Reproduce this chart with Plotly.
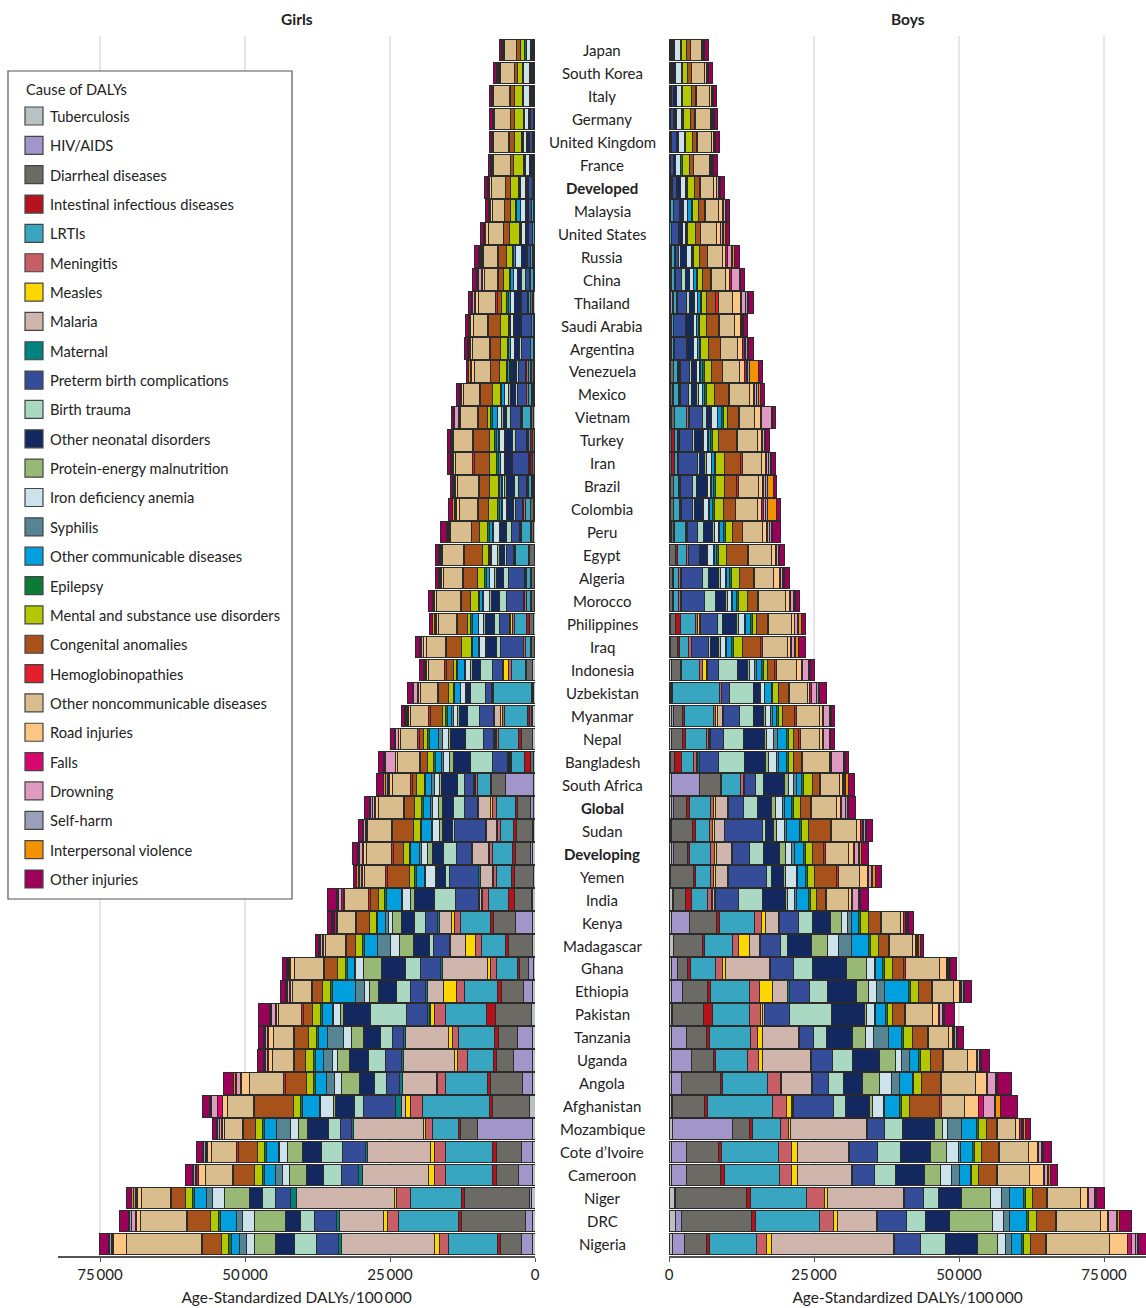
import plotly.graph_objects as go

# ---------------- categories ----------------
countries = ["Japan", "South Korea", "Italy", "Germany", "United Kingdom", "France", "Developed",
             "Malaysia", "United States", "Russia", "China", "Thailand", "Saudi Arabia", "Argentina",
             "Venezuela", "Mexico", "Vietnam", "Turkey", "Iran", "Brazil", "Colombia", "Peru", "Egypt",
             "Algeria", "Morocco", "Philippines", "Iraq", "Indonesia", "Uzbekistan", "Myanmar", "Nepal",
             "Bangladesh", "South Africa", "Global", "Sudan", "Developing", "Yemen", "India", "Kenya",
             "Madagascar", "Ghana", "Ethiopia", "Pakistan", "Tanzania", "Uganda", "Angola", "Afghanistan",
             "Mozambique", "Cote d\u2019Ivoire", "Cameroon", "Niger", "DRC", "Nigeria"]
bold_rows = ["Developed", "Global", "Developing"]

causes = ["Tuberculosis", "HIV/AIDS", "Diarrheal diseases", "Intestinal infectious diseases", "LRTIs",
          "Meningitis", "Measles", "Malaria", "Maternal", "Preterm birth complications", "Birth trauma",
          "Other neonatal disorders", "Protein-energy malnutrition", "Iron deficiency anemia", "Syphilis",
          "Other communicable diseases", "Epilepsy", "Mental and substance use disorders",
          "Congenital anomalies", "Hemoglobinopathies", "Other noncommunicable diseases", "Road injuries",
          "Falls", "Drowning", "Self-harm", "Interpersonal violence", "Other injuries"]
cause_colors = ["#b9c1c5", "#a195c9", "#6b6a65", "#b5121b", "#38a6c0", "#c95f66", "#ffd700", "#d0b5ad",
                "#00827e", "#354c98", "#a9d8c3", "#13285e", "#98b875", "#cde3ec", "#558593", "#00a0df",
                "#0b7b36", "#b3c800", "#a8521b", "#e3202a", "#d9bd8d", "#fdc682", "#d8076e", "#e09ac2",
                "#9b9fb9", "#f39200", "#9c0058"]

tick_vals = [0, 25, 50, 75]
tick_text = ["0", "25\u2009000", "50\u2009000", "75\u2009000"]

# ---------------- values (thousand DALYs per 100 000), order = causes ----------------
# Girls
g_japan = [0, 0, 0.05, 0.05, 0.15, 0.05, 0, 0, 0, 0.15, 0.1, 0.15, 0.05, 0.7, 0, 0.1, 0.2, 0.8, 0.6, 0.05, 2.0, 0.15, 0.05, 0.05, 0.2, 0.05, 0.4]
g_south_korea = [0, 0, 0.05, 0.05, 0.2, 0.05, 0, 0, 0, 0.2, 0.1, 0.2, 0.05, 1.0, 0, 0.1, 0.2, 0.9, 0.4, 0.05, 2.4, 0.2, 0.05, 0.05, 0.3, 0.05, 0.5]
g_italy = [0, 0, 0.05, 0.05, 0.2, 0.05, 0, 0, 0, 0.3, 0.1, 0.2, 0.05, 0.9, 0, 0.1, 0.2, 1.4, 0.6, 0.2, 2.7, 0.15, 0.05, 0.05, 0.05, 0.05, 0.4]
g_germany = [0, 0, 0.05, 0.05, 0.15, 0.05, 0, 0, 0, 0.4, 0.1, 0.2, 0.05, 0.7, 0, 0.1, 0.2, 1.4, 0.7, 0.05, 2.8, 0.15, 0.05, 0.05, 0.1, 0.05, 0.4]
g_uk = [0, 0, 0.05, 0.05, 0.2, 0.05, 0, 0, 0, 0.6, 0.1, 0.3, 0.05, 0.6, 0, 0.1, 0.2, 1.2, 0.9, 0.1, 2.6, 0.15, 0.05, 0.05, 0.05, 0.05, 0.4]
g_france = [0, 0, 0.05, 0.05, 0.15, 0.05, 0, 0, 0, 0.2, 0.1, 0.3, 0.05, 0.7, 0, 0.1, 0.2, 1.7, 0.6, 0.05, 2.9, 0.15, 0.05, 0.05, 0.1, 0.05, 0.4]
g_developed = [0.05, 0.05, 0.1, 0.05, 0.2, 0.05, 0, 0, 0, 0.6, 0.15, 0.3, 0.05, 0.9, 0, 0.15, 0.2, 1.3, 0.9, 0.1, 2.4, 0.3, 0.05, 0.1, 0.15, 0.05, 0.5]
g_malaysia = [0.1, 0.05, 0.1, 0.05, 0.3, 0.05, 0, 0, 0, 0.5, 0.1, 0.4, 0.05, 0.8, 0, 0.7, 0.2, 0.8, 1.0, 0.1, 2.1, 0.3, 0.05, 0.1, 0.05, 0.05, 0.5]
g_us = [0, 0, 0.1, 0.05, 0.2, 0.05, 0, 0, 0, 0.7, 0.15, 0.4, 0.05, 0.7, 0, 0.15, 0.2, 1.7, 0.9, 0.1, 2.6, 0.4, 0.05, 0.1, 0.1, 0.1, 0.6]
g_russia = [0.1, 0.1, 0.1, 0.05, 0.4, 0.1, 0, 0, 0, 0.5, 0.2, 0.8, 0.05, 1.0, 0, 0.3, 0.2, 1.1, 1.3, 0.1, 2.4, 0.3, 0.1, 0.2, 0.2, 0.2, 0.6]
g_china = [0.1, 0.05, 0.1, 0.05, 0.5, 0.1, 0, 0, 0, 0.7, 0.8, 0.6, 0.1, 0.6, 0, 0.5, 0.2, 1.0, 0.9, 0.1, 2.3, 0.4, 0.2, 0.5, 0.2, 0.05, 0.7]
g_thailand = [0.2, 0.3, 0.2, 0.05, 0.4, 0.1, 0, 0, 0, 1.0, 0.3, 0.9, 0.1, 0.6, 0, 0.5, 0.2, 0.9, 0.7, 0.4, 2.9, 0.5, 0.1, 0.4, 0.1, 0.1, 0.6]
g_saudi_arabia = [0.05, 0, 0.1, 0.1, 0.3, 0.1, 0, 0, 0, 1.7, 0.2, 1.0, 0.1, 0.6, 0, 0.2, 0.2, 1.3, 2.0, 0.3, 2.4, 0.5, 0.1, 0.1, 0.05, 0.05, 0.6]
g_argentina = [0.05, 0.05, 0.15, 0.05, 0.4, 0.1, 0, 0, 0, 1.6, 0.2, 0.9, 0.1, 0.6, 0, 0.3, 0.2, 1.3, 1.7, 0.1, 2.9, 0.4, 0.1, 0.1, 0.2, 0.1, 0.6]
g_venezuela = [0.1, 0.1, 0.4, 0.1, 0.5, 0.2, 0, 0.1, 0.1, 1.3, 0.3, 0.6, 0.2, 0.3, 0.1, 0.4, 0.2, 1.2, 1.4, 0.1, 2.8, 0.4, 0.1, 0.1, 0.1, 0.2, 0.4]
g_mexico = [0.1, 0.1, 0.3, 0.1, 0.6, 0.2, 0, 0, 0.1, 1.5, 0.4, 0.9, 0.2, 0.7, 0.1, 0.5, 0.2, 1.3, 2.1, 0.1, 2.9, 0.3, 0.1, 0.1, 0.1, 0.1, 0.5]
g_vietnam = [0.2, 0.1, 0.3, 0.1, 1.4, 0.2, 0.1, 0, 0.1, 1.7, 0.7, 0.6, 0.2, 0.7, 0.1, 0.9, 0.2, 0.6, 1.6, 0.2, 2.8, 0.3, 0.1, 0.7, 0.1, 0.1, 0.3]
g_turkey = [0.1, 0, 0.3, 0.3, 0.4, 0.2, 0, 0, 0.1, 2.0, 0.4, 1.3, 0.2, 0.9, 0.1, 0.3, 0.3, 1.0, 2.7, 0.2, 3.2, 0.2, 0.1, 0.1, 0.1, 0.1, 0.5]
g_iran = [0.1, 0, 0.3, 0.3, 0.3, 0.1, 0, 0, 0.1, 2.6, 0.3, 1.0, 0.2, 0.6, 0.1, 0.3, 0.3, 1.2, 2.6, 0.3, 3.0, 0.4, 0.1, 0.1, 0.1, 0.1, 0.6]
g_brazil = [0.1, 0.1, 0.3, 0.1, 0.5, 0.2, 0, 0, 0.1, 1.5, 0.6, 1.5, 0.2, 0.4, 0.2, 0.3, 0.2, 1.6, 1.7, 0.2, 3.5, 0.4, 0.1, 0.1, 0.1, 0.2, 0.4]
g_colombia = [0.1, 0.1, 0.5, 0.1, 0.9, 0.2, 0, 0.1, 0.1, 1.2, 0.4, 1.0, 0.3, 0.6, 0.1, 0.5, 0.2, 1.6, 1.8, 0.1, 3.2, 0.4, 0.1, 0.1, 0.1, 0.4, 0.7]
g_peru = [0.2, 0.1, 0.3, 0.1, 1.6, 0.2, 0, 0, 0.1, 1.4, 0.9, 1.0, 0.3, 0.9, 0.2, 0.6, 0.3, 1.3, 1.4, 0.1, 3.5, 0.3, 0.1, 0.2, 0.1, 0.1, 1.0]
g_egypt = [0.1, 0, 0.9, 0.2, 2.2, 0.2, 0, 0, 0.1, 1.3, 0.3, 0.9, 0.3, 1.0, 0.1, 0.3, 0.2, 1.0, 3.0, 0.2, 3.6, 0.3, 0.1, 0.1, 0.1, 0.1, 0.6]
g_algeria = [0.1, 0, 0.5, 0.2, 0.6, 0.3, 0, 0, 0.1, 2.8, 0.8, 1.2, 0.3, 0.9, 0.1, 0.5, 0.3, 1.2, 2.4, 0.2, 3.3, 0.4, 0.1, 0.1, 0.1, 0.1, 0.6]
g_morocco = [0.1, 0, 0.5, 0.2, 0.7, 0.3, 0, 0, 0.1, 3.0, 1.3, 1.3, 0.3, 1.0, 0.2, 0.5, 0.3, 1.3, 1.5, 0.2, 4.1, 0.4, 0.1, 0.1, 0.1, 0.1, 0.6]
g_philippines = [0.3, 0, 0.6, 0.6, 2.0, 0.3, 0.4, 0.1, 0.1, 1.7, 0.9, 1.6, 0.2, 0.9, 0.1, 1.0, 0.3, 0.5, 1.7, 0.2, 3.2, 0.3, 0.1, 0.2, 0.1, 0.2, 0.6]
g_iraq = [0.1, 0, 0.5, 0.2, 0.9, 0.2, 0, 0, 0.1, 4.0, 0.7, 1.6, 0.3, 1.0, 0.1, 1.0, 0.3, 1.6, 2.6, 0.2, 3.3, 0.5, 0.1, 0.3, 0.1, 0.3, 0.6]
g_indonesia = [0.4, 0.1, 0.9, 0.3, 2.4, 0.4, 0.9, 0.1, 0.1, 1.8, 2.0, 1.4, 0.3, 0.9, 0.2, 1.1, 0.3, 0.5, 1.2, 0.3, 2.8, 0.3, 0.1, 0.3, 0.1, 0.1, 0.6]
g_uzbekistan = [0.2, 0, 0.3, 0.1, 6.6, 0.2, 0, 0, 0.1, 1.0, 2.6, 0.7, 0.2, 0.8, 0.1, 0.9, 0.3, 0.9, 1.6, 0.2, 2.9, 0.4, 0.1, 0.7, 0.1, 0.1, 0.9]
g_myanmar = [0.4, 0.2, 0.3, 0.4, 4.0, 0.3, 0.4, 1.0, 0.1, 2.4, 2.2, 1.4, 0.3, 0.7, 0.3, 0.7, 0.3, 0.6, 2.0, 0.3, 3.1, 0.4, 0.1, 0.3, 0.1, 0.2, 0.6]
g_nepal = [0.4, 0.1, 1.9, 0.4, 3.5, 0.4, 0.1, 0.1, 0.2, 1.8, 3.0, 2.6, 0.4, 1.1, 0.6, 1.6, 0.3, 0.7, 0.8, 0.2, 3.0, 0.3, 0.1, 0.4, 0.2, 0.1, 0.7]
g_bangladesh = [0.3, 0, 0.5, 1.0, 2.2, 0.3, 0.1, 0.1, 0.3, 2.6, 3.8, 2.8, 0.7, 1.1, 0.3, 1.1, 0.3, 1.0, 1.2, 0.2, 3.8, 0.3, 0.1, 1.7, 0.2, 0.1, 0.9]
g_south_africa = [0.3, 4.8, 2.4, 0.2, 2.2, 0.3, 0.1, 0.1, 0.2, 1.6, 1.1, 2.8, 0.4, 0.9, 0.4, 1.0, 0.3, 1.3, 0.8, 0.2, 3.2, 0.5, 0.1, 0.3, 0.2, 0.5, 1.2]
g_global = [0.3, 0.4, 2.3, 0.4, 3.3, 0.6, 0.3, 2.1, 0.2, 2.3, 1.8, 2.0, 0.6, 1.0, 0.4, 1.3, 0.3, 1.2, 1.7, 0.2, 4.3, 0.5, 0.2, 0.4, 0.2, 0.2, 0.9]
g_sudan = [0.3, 0.2, 2.7, 0.5, 2.3, 0.5, 0.2, 1.6, 0.3, 5.2, 0.4, 1.8, 0.5, 1.1, 0.3, 1.6, 0.3, 1.2, 3.6, 0.2, 4.0, 0.3, 0.1, 0.3, 0.1, 0.2, 0.7]
g_developing = [0.4, 0.4, 2.5, 0.5, 3.5, 0.5, 0.3, 2.6, 0.3, 2.5, 2.2, 2.0, 0.9, 1.0, 0.4, 1.4, 0.3, 0.9, 1.8, 0.3, 4.4, 0.4, 0.2, 0.5, 0.2, 0.2, 0.9]
g_yemen = [0.2, 0.1, 3.3, 0.5, 2.5, 0.5, 0.2, 2.1, 0.3, 5.1, 0.7, 1.4, 0.3, 1.7, 0.2, 1.4, 0.3, 0.9, 3.7, 0.3, 3.7, 0.4, 0.2, 0.3, 0.1, 0.3, 0.6]
g_india = [0.4, 0.2, 2.9, 1.0, 3.5, 1.0, 0.2, 0.4, 0.2, 3.9, 3.6, 3.4, 0.7, 1.4, 0.2, 2.6, 0.3, 1.0, 1.5, 0.3, 4.1, 0.3, 0.2, 0.5, 0.2, 0.2, 1.6]
g_kenya = [0.4, 2.9, 3.9, 0.5, 5.2, 1.0, 0.5, 2.1, 0.3, 2.0, 2.0, 2.3, 1.4, 0.8, 0.5, 1.3, 0.3, 1.1, 2.2, 0.2, 3.1, 0.3, 0.2, 0.2, 0.2, 0.2, 0.6]
g_madagascar = [0.4, 0.1, 4.1, 0.5, 4.1, 1.0, 1.8, 2.5, 0.3, 2.7, 0.7, 2.7, 2.4, 1.6, 2.3, 2.2, 0.3, 1.2, 1.6, 0.2, 3.5, 0.3, 0.2, 0.2, 0.2, 0.2, 0.6]
g_ghana = [0.3, 0.9, 1.4, 0.4, 3.6, 1.1, 0.5, 7.8, 0.3, 3.4, 2.6, 4.2, 3.1, 1.3, 0.3, 1.1, 0.3, 1.4, 2.3, 0.2, 5.0, 0.6, 0.2, 0.2, 0.2, 0.2, 0.6]
g_ethiopia = [0.4, 1.5, 3.9, 0.6, 5.8, 1.4, 2.2, 2.7, 0.3, 2.7, 2.3, 3.2, 1.5, 0.9, 1.6, 4.0, 0.3, 1.3, 1.8, 0.2, 3.2, 0.4, 0.2, 0.2, 0.2, 0.2, 0.9]
g_pakistan = [0.6, 0, 6.2, 1.6, 7.0, 2.0, 0.6, 0.2, 0.4, 3.5, 6.2, 4.8, 0.4, 1.2, 0.2, 1.8, 0.3, 1.3, 1.7, 0.2, 4.0, 0.3, 0.2, 0.7, 0.2, 0.2, 1.8]
g_tanzania = [0.4, 2.7, 3.2, 0.6, 6.3, 1.0, 0.8, 7.4, 0.3, 1.9, 2.0, 3.0, 2.1, 1.4, 2.6, 1.7, 0.3, 1.3, 2.4, 0.2, 3.5, 0.9, 0.2, 0.2, 0.2, 0.2, 0.9]
g_uganda = [0.4, 3.3, 2.9, 0.6, 4.5, 1.7, 0.5, 8.8, 0.3, 2.8, 2.9, 3.3, 2.0, 0.9, 1.6, 1.4, 0.3, 1.3, 2.0, 0.2, 3.6, 0.7, 0.2, 0.2, 0.2, 0.2, 1.1]
g_angola = [0.4, 1.7, 5.5, 0.6, 7.2, 1.4, 0.2, 5.9, 0.4, 2.3, 2.1, 2.6, 3.0, 1.3, 1.3, 2.0, 0.3, 1.2, 3.7, 0.2, 5.9, 1.4, 0.2, 0.7, 0.2, 0.2, 1.8]
g_afghanistan = [1.0, 0, 6.3, 0.6, 11.5, 2.1, 0.9, 0.7, 0.9, 5.6, 1.5, 3.3, 0.4, 2.2, 0.2, 2.9, 0.3, 1.3, 6.7, 0.2, 4.4, 0.8, 1.0, 1.0, 0.2, 0.2, 1.2]
g_mozambique = [0.4, 9.5, 2.9, 0.4, 4.5, 1.1, 0.4, 12.1, 0.3, 2.0, 2.0, 3.7, 1.5, 1.3, 2.4, 2.2, 0.3, 1.2, 2.1, 0.2, 3.0, 0.4, 0.2, 0.3, 0.3, 0.2, 0.7]
g_cote_divoire = [0.4, 2.0, 4.3, 0.6, 8.1, 1.9, 0.8, 10.7, 0.4, 4.0, 3.6, 3.3, 2.6, 1.3, 0.3, 2.0, 0.3, 1.3, 3.3, 0.2, 4.3, 0.7, 0.2, 0.2, 0.3, 0.2, 1.0]
g_cameroon = [0.4, 2.4, 3.9, 0.6, 8.1, 1.9, 1.0, 11.5, 0.6, 3.0, 3.0, 3.0, 2.9, 1.2, 1.3, 1.8, 0.4, 1.3, 3.7, 0.2, 4.6, 1.3, 0.2, 0.3, 0.3, 0.2, 1.2]
g_niger = [0.6, 0.3, 11.2, 0.6, 8.7, 2.5, 0.4, 16.8, 1.0, 2.7, 2.2, 2.3, 4.2, 2.1, 1.1, 2.0, 0.3, 1.3, 2.4, 0.2, 4.9, 0.7, 0.2, 0.2, 0.3, 0.3, 1.0]
g_drc = [0.5, 1.2, 10.9, 0.6, 10.4, 1.8, 0.7, 7.6, 0.5, 3.9, 2.4, 2.6, 5.2, 2.1, 1.0, 2.8, 0.4, 1.3, 4.0, 0.2, 7.9, 0.7, 0.2, 0.7, 0.3, 0.2, 1.6]
g_nigeria = [0.4, 2.0, 3.6, 0.5, 8.4, 1.6, 0.9, 15.9, 0.6, 3.7, 3.8, 3.4, 3.6, 1.4, 1.1, 1.5, 0.5, 1.1, 3.3, 0.2, 12.9, 2.3, 0.2, 0.2, 0.2, 0.2, 1.6]

# Boys
b_japan = [0, 0, 0.05, 0.05, 0.2, 0.05, 0, 0, 0, 0.2, 0.1, 0.2, 0.05, 1.0, 0, 0.1, 0.2, 0.9, 0.6, 0.05, 1.8, 0.2, 0.05, 0.1, 0.2, 0.05, 0.6]
b_south_korea = [0, 0, 0.05, 0.05, 0.2, 0.05, 0, 0, 0, 0.3, 0.1, 0.3, 0.05, 1.0, 0, 0.1, 0.2, 0.8, 0.6, 0.05, 2.3, 0.3, 0.05, 0.1, 0.2, 0.05, 0.7]
b_italy = [0, 0, 0.05, 0.05, 0.2, 0.05, 0, 0, 0, 0.5, 0.1, 0.3, 0.05, 0.8, 0, 0.1, 0.2, 1.4, 0.7, 0.2, 2.3, 0.3, 0.05, 0.1, 0.1, 0.05, 0.6]
b_germany = [0, 0, 0.05, 0.05, 0.15, 0.05, 0, 0, 0, 0.5, 0.1, 0.3, 0.05, 0.9, 0, 0.1, 0.2, 1.3, 0.7, 0.05, 2.6, 0.3, 0.05, 0.1, 0.2, 0.05, 0.6]
b_uk = [0, 0, 0.05, 0.05, 0.2, 0.05, 0, 0, 0, 0.9, 0.1, 0.3, 0.05, 0.9, 0, 0.1, 0.2, 1.2, 0.7, 0.1, 2.5, 0.3, 0.05, 0.1, 0.2, 0.05, 0.6]
b_france = [0, 0, 0.05, 0.05, 0.15, 0.05, 0, 0, 0, 0.4, 0.1, 0.3, 0.05, 0.8, 0, 0.1, 0.2, 1.3, 0.6, 0.05, 2.7, 0.3, 0.05, 0.1, 0.2, 0.05, 0.7]
b_developed = [0.05, 0.05, 0.1, 0.05, 0.25, 0.05, 0, 0, 0, 0.8, 0.2, 0.4, 0.05, 0.8, 0, 0.15, 0.2, 1.3, 0.8, 0.1, 2.3, 0.5, 0.1, 0.2, 0.3, 0.1, 0.7]
b_malaysia = [0.1, 0.05, 0.1, 0.05, 0.4, 0.05, 0, 0, 0, 1.0, 0.2, 0.5, 0.05, 0.7, 0, 0.7, 0.2, 1.0, 1.1, 0.1, 2.3, 0.7, 0.1, 0.3, 0.1, 0.1, 0.5]
b_us = [0, 0, 0.1, 0.05, 0.2, 0.05, 0, 0, 0, 1.3, 0.15, 0.4, 0.05, 0.6, 0, 0.15, 0.2, 1.4, 0.7, 0.1, 2.8, 0.6, 0.1, 0.2, 0.3, 0.3, 0.6]
b_russia = [0.2, 0.1, 0.1, 0.05, 0.5, 0.1, 0, 0, 0, 0.6, 0.3, 1.1, 0.05, 0.7, 0, 0.3, 0.2, 1.0, 1.3, 0.1, 2.5, 0.5, 0.3, 0.7, 0.3, 0.3, 0.8]
b_china = [0.2, 0.05, 0.1, 0.05, 0.6, 0.1, 0, 0, 0, 1.1, 0.6, 0.7, 0.1, 0.6, 0, 0.5, 0.2, 0.9, 1.4, 0.1, 2.5, 0.7, 0.3, 1.3, 0.2, 0.1, 0.6]
b_thailand = [0.3, 0.3, 0.2, 0.05, 0.5, 0.1, 0, 0, 0, 1.6, 0.4, 0.8, 0.1, 0.5, 0, 0.5, 0.2, 0.9, 1.6, 0.4, 2.5, 1.3, 0.2, 0.8, 0.2, 0.2, 0.9]
b_saudi_arabia = [0.05, 0, 0.2, 0.2, 0.3, 0.1, 0, 0, 0, 2.0, 0.2, 1.0, 0.1, 0.6, 0, 0.3, 0.2, 1.2, 2.0, 0.3, 2.6, 0.9, 0.2, 0.2, 0.1, 0.1, 0.7]
b_argentina = [0.05, 0.05, 0.2, 0.05, 0.5, 0.1, 0, 0, 0, 2.0, 0.2, 1.0, 0.1, 0.7, 0, 0.3, 0.2, 1.4, 2.0, 0.1, 2.9, 0.9, 0.2, 0.3, 0.3, 0.2, 0.9]
b_venezuela = [0.1, 0.2, 0.4, 0.1, 0.7, 0.2, 0, 0.1, 0.1, 1.6, 0.3, 0.8, 0.2, 0.5, 0.1, 0.4, 0.3, 1.3, 1.8, 0.1, 2.9, 0.9, 0.2, 0.3, 0.3, 1.6, 0.6]
b_mexico = [0.1, 0.1, 0.4, 0.1, 0.9, 0.2, 0, 0, 0.1, 1.5, 0.4, 1.0, 0.2, 0.7, 0.1, 0.4, 0.3, 1.3, 2.5, 0.1, 3.5, 0.7, 0.2, 0.3, 0.3, 0.4, 0.7]
b_vietnam = [0.3, 0.2, 0.4, 0.1, 2.1, 0.2, 0.1, 0, 0.1, 2.3, 0.7, 0.6, 0.2, 1.0, 0.1, 0.7, 0.3, 0.7, 1.8, 0.2, 2.7, 1.0, 0.2, 1.6, 0.2, 0.1, 0.5]
b_turkey = [0.1, 0, 0.4, 0.4, 0.6, 0.2, 0, 0, 0.1, 2.2, 0.4, 1.3, 0.2, 0.8, 0.1, 0.4, 0.3, 1.1, 3.0, 0.2, 3.5, 0.6, 0.2, 0.3, 0.2, 0.1, 0.7]
b_iran = [0.1, 0, 0.4, 0.4, 0.5, 0.2, 0, 0, 0.1, 3.2, 0.4, 0.9, 0.2, 0.9, 0.1, 0.4, 0.3, 1.4, 2.9, 0.3, 3.2, 0.7, 0.2, 0.4, 0.3, 0.2, 0.7]
b_brazil = [0.1, 0.2, 0.4, 0.1, 0.8, 0.2, 0, 0, 0.1, 2.1, 0.7, 1.8, 0.2, 0.4, 0.2, 0.4, 0.3, 1.6, 2.1, 0.2, 3.5, 0.7, 0.2, 0.4, 0.2, 1.2, 0.5]
b_colombia = [0.1, 0.1, 0.5, 0.1, 1.0, 0.2, 0, 0.1, 0.1, 1.8, 0.4, 1.3, 0.3, 0.8, 0.1, 0.6, 0.3, 1.6, 2.0, 0.1, 3.8, 0.7, 0.3, 0.4, 0.2, 1.6, 0.7]
b_peru = [0.2, 0.2, 0.4, 0.1, 2.0, 0.2, 0, 0, 0.1, 1.7, 1.0, 1.6, 0.3, 0.7, 0.2, 0.7, 0.3, 1.2, 1.7, 0.1, 3.5, 0.6, 0.2, 0.4, 0.2, 0.3, 1.3]
b_egypt = [0.1, 0, 1.0, 0.3, 1.7, 0.2, 0, 0, 0.1, 1.8, 0.3, 0.9, 0.3, 1.0, 0.1, 0.4, 0.3, 1.4, 3.6, 0.2, 4.0, 0.6, 0.2, 0.3, 0.1, 0.1, 0.9]
b_algeria = [0.1, 0, 0.5, 0.2, 0.9, 0.3, 0, 0, 0.1, 3.7, 1.0, 1.7, 0.3, 1.0, 0.1, 0.5, 0.3, 1.4, 2.4, 0.2, 3.3, 1.0, 0.2, 0.3, 0.2, 0.2, 0.9]
b_morocco = [0.1, 0, 0.5, 0.2, 0.9, 0.3, 0, 0, 0.1, 4.0, 1.9, 1.8, 0.3, 0.7, 0.2, 0.7, 0.3, 1.6, 1.6, 0.2, 4.6, 0.7, 0.2, 0.5, 0.2, 0.2, 0.7]
b_philippines = [0.3, 0, 0.8, 0.9, 2.5, 0.4, 0.4, 0.1, 0.1, 2.8, 1.0, 2.4, 0.3, 1.0, 0.2, 0.9, 0.3, 0.6, 2.0, 0.2, 3.9, 0.5, 0.1, 0.5, 0.2, 0.4, 0.7]
b_iraq = [0.2, 0, 1.3, 0.3, 1.6, 0.4, 0, 0, 0.1, 2.9, 0.4, 1.3, 0.3, 1.0, 0.1, 0.9, 0.3, 1.5, 3.2, 0.3, 4.3, 0.6, 0.2, 0.4, 0.2, 0.5, 1.3]
b_indonesia = [0.4, 0.1, 1.4, 0.3, 3.0, 0.6, 0.6, 0.1, 0.1, 2.0, 3.2, 1.7, 0.3, 0.9, 0.3, 1.0, 0.3, 0.6, 1.3, 0.3, 3.5, 0.9, 0.2, 0.9, 0.2, 0.2, 0.6]
b_uzbekistan = [0.2, 0, 0.3, 0.1, 8.1, 0.3, 0, 0, 0.1, 1.4, 4.0, 1.1, 0.2, 0.6, 0.1, 1.1, 0.3, 1.0, 1.7, 0.2, 3.0, 0.5, 0.2, 1.0, 0.3, 0.2, 1.2]
b_myanmar = [0.5, 0.3, 1.6, 0.3, 5.0, 0.4, 0.3, 0.9, 0.1, 2.8, 2.3, 1.8, 0.3, 0.9, 0.3, 0.7, 0.3, 0.8, 2.0, 0.3, 4.0, 0.6, 0.2, 0.9, 0.2, 0.2, 0.6]
b_nepal = [0.4, 0.1, 1.8, 0.6, 3.5, 0.4, 0.1, 0.1, 0.2, 2.2, 3.5, 3.6, 0.3, 1.2, 0.7, 1.6, 0.3, 0.9, 0.9, 0.2, 3.3, 0.5, 0.2, 1.0, 0.2, 0.1, 0.7]
b_bangladesh = [0.3, 0, 0.7, 1.2, 2.1, 0.4, 0.1, 0.1, 0.3, 3.3, 4.6, 3.6, 0.5, 1.3, 0.4, 1.4, 0.3, 0.9, 1.3, 0.2, 4.6, 0.3, 0.1, 2.1, 0.2, 0.1, 0.6]
b_south_africa = [0.4, 4.8, 3.6, 0.3, 3.3, 0.4, 0.1, 0.1, 0.1, 1.8, 1.4, 3.6, 0.7, 0.9, 0.4, 1.0, 0.3, 1.6, 1.2, 0.2, 3.2, 0.5, 0.1, 0.3, 0.2, 0.4, 1.0]
b_global = [0.4, 0.4, 2.3, 0.4, 3.6, 0.6, 0.3, 2.1, 0.1, 2.7, 2.3, 2.5, 0.7, 1.1, 0.4, 1.3, 0.3, 1.2, 1.7, 0.2, 4.3, 0.7, 0.2, 0.7, 0.2, 0.3, 1.2]
b_sudan = [0.3, 0.2, 3.6, 0.4, 2.5, 0.5, 0.3, 1.7, 0.1, 6.6, 0.5, 1.4, 0.5, 1.3, 0.3, 2.3, 0.3, 1.3, 3.7, 0.2, 4.4, 0.7, 0.2, 0.3, 0.2, 0.2, 1.0]
b_developing = [0.4, 0.4, 2.4, 0.4, 3.6, 0.7, 0.3, 2.6, 0.1, 2.9, 2.5, 2.8, 0.9, 1.2, 0.4, 1.6, 0.3, 1.2, 1.9, 0.3, 4.0, 0.9, 0.2, 0.7, 0.2, 0.3, 1.2]
b_yemen = [0.2, 0.1, 3.9, 0.4, 2.6, 0.5, 0.3, 2.1, 0.1, 6.6, 0.9, 2.1, 0.3, 1.8, 0.3, 1.4, 0.3, 1.1, 3.9, 0.3, 3.7, 1.3, 0.2, 0.5, 0.2, 0.5, 1.0]
b_india = [0.6, 0.2, 2.1, 1.0, 2.8, 0.6, 0.2, 0.3, 0.2, 4.0, 4.1, 3.9, 0.4, 1.3, 0.2, 2.2, 0.3, 1.0, 1.5, 0.3, 3.7, 0.6, 0.2, 0.9, 0.2, 0.2, 1.4]
b_kenya = [0.5, 3.0, 4.7, 0.5, 6.0, 1.3, 0.6, 2.3, 0.2, 3.2, 2.4, 3.2, 1.9, 1.0, 0.6, 1.3, 0.3, 1.4, 2.1, 0.2, 3.2, 0.6, 0.2, 0.2, 0.2, 0.2, 0.9]
b_madagascar = [0.7, 0.1, 4.9, 0.5, 4.8, 1.0, 1.8, 1.8, 0.2, 3.5, 1.2, 4.0, 2.9, 1.8, 2.3, 2.9, 0.3, 1.4, 1.8, 0.2, 3.8, 0.6, 0.2, 0.2, 0.2, 0.2, 0.6]
b_ghana = [0.4, 1.0, 1.8, 0.5, 4.3, 1.2, 0.6, 7.5, 0.2, 4.0, 3.2, 5.9, 3.4, 1.4, 0.2, 1.2, 0.3, 1.4, 2.0, 0.2, 5.9, 1.2, 0.2, 0.2, 0.2, 0.2, 1.0]
b_ethiopia = [0.4, 1.9, 4.4, 0.5, 6.7, 1.7, 2.2, 2.7, 0.2, 3.6, 3.0, 5.1, 2.0, 1.4, 1.4, 4.1, 0.3, 1.4, 2.3, 0.2, 3.6, 0.9, 0.2, 0.3, 0.2, 0.2, 1.2]
b_pakistan = [0.5, 0.1, 5.3, 1.6, 6.4, 1.8, 0.5, 0.2, 0.1, 4.3, 7.3, 5.6, 0.4, 1.3, 0.2, 1.8, 0.3, 0.9, 2.0, 0.2, 4.6, 1.0, 0.2, 0.5, 0.2, 0.2, 1.8]
b_tanzania = [0.5, 2.5, 3.5, 0.5, 7.0, 1.2, 0.9, 6.2, 0.2, 2.4, 2.3, 4.4, 2.3, 1.3, 2.6, 2.3, 0.3, 1.5, 2.6, 0.2, 3.5, 0.6, 0.2, 0.3, 0.2, 0.2, 1.1]
b_uganda = [0.5, 3.3, 3.8, 0.4, 5.5, 1.9, 0.7, 8.3, 0.2, 3.6, 3.5, 4.6, 2.7, 1.0, 1.5, 1.6, 0.3, 1.7, 2.0, 0.2, 4.1, 1.6, 0.2, 0.3, 0.2, 0.2, 1.4]
b_angola = [0.5, 1.7, 6.6, 0.5, 7.6, 2.3, 0.2, 5.1, 0.2, 2.8, 2.5, 3.3, 3.0, 2.1, 1.3, 2.2, 0.3, 1.4, 3.2, 0.2, 5.9, 1.8, 0.2, 1.4, 0.2, 0.2, 2.4]
b_afghanistan = [0.5, 0.1, 5.5, 0.6, 11.1, 2.4, 0.9, 0.2, 0.1, 6.9, 2.2, 4.1, 0.4, 1.9, 0.2, 2.7, 0.3, 1.3, 5.3, 0.2, 4.0, 2.4, 1.0, 1.8, 0.2, 0.9, 2.9]
b_mozambique = [0.6, 10.4, 2.9, 0.5, 4.8, 1.4, 0.3, 13.2, 0.2, 2.8, 3.2, 5.5, 1.3, 1.0, 2.4, 2.5, 0.3, 1.4, 1.7, 0.2, 3.2, 0.7, 0.2, 0.3, 0.2, 0.2, 1.0]
b_cote_divoire = [0.5, 2.5, 5.5, 0.6, 9.8, 2.3, 0.9, 8.8, 0.2, 4.9, 3.9, 5.1, 2.9, 2.0, 0.3, 2.1, 0.3, 1.2, 3.0, 0.2, 4.9, 1.6, 0.2, 0.5, 0.2, 0.2, 1.3]
b_cameroon = [0.5, 2.6, 5.8, 0.7, 9.4, 2.2, 0.9, 9.3, 0.2, 3.9, 3.6, 4.9, 2.8, 1.9, 1.3, 1.9, 0.3, 1.2, 3.1, 0.2, 5.5, 2.3, 0.2, 0.6, 0.2, 0.2, 1.3]
b_niger = [1.0, 0.2, 12.2, 0.6, 9.7, 3.1, 0.5, 13.1, 0.2, 3.3, 2.5, 4.0, 5.0, 2.0, 1.3, 2.4, 0.3, 1.3, 2.3, 0.2, 5.8, 1.2, 0.2, 0.9, 0.2, 0.2, 1.4]
b_drc = [1.1, 1.1, 12.1, 0.6, 11.0, 2.5, 0.7, 6.6, 0.2, 5.1, 3.2, 4.1, 7.4, 2.0, 1.0, 3.0, 0.3, 1.3, 3.3, 0.2, 7.6, 1.2, 0.2, 1.3, 0.2, 0.3, 2.2]
b_nigeria = [0.6, 2.1, 3.7, 0.5, 8.2, 1.7, 0.9, 21.0, 0.2, 4.5, 4.3, 5.5, 3.4, 1.5, 1.0, 1.7, 0.3, 1.3, 2.5, 0.2, 10.8, 3.2, 0.7, 0.7, 0.2, 0.2, 1.8]

girls = [g_japan, g_south_korea, g_italy, g_germany, g_uk, g_france, g_developed, g_malaysia, g_us,
         g_russia, g_china, g_thailand, g_saudi_arabia, g_argentina, g_venezuela, g_mexico, g_vietnam,
         g_turkey, g_iran, g_brazil, g_colombia, g_peru, g_egypt, g_algeria, g_morocco, g_philippines,
         g_iraq, g_indonesia, g_uzbekistan, g_myanmar, g_nepal, g_bangladesh, g_south_africa, g_global,
         g_sudan, g_developing, g_yemen, g_india, g_kenya, g_madagascar, g_ghana, g_ethiopia, g_pakistan,
         g_tanzania, g_uganda, g_angola, g_afghanistan, g_mozambique, g_cote_divoire, g_cameroon,
         g_niger, g_drc, g_nigeria]
boys = [b_japan, b_south_korea, b_italy, b_germany, b_uk, b_france, b_developed, b_malaysia, b_us,
        b_russia, b_china, b_thailand, b_saudi_arabia, b_argentina, b_venezuela, b_mexico, b_vietnam,
        b_turkey, b_iran, b_brazil, b_colombia, b_peru, b_egypt, b_algeria, b_morocco, b_philippines,
        b_iraq, b_indonesia, b_uzbekistan, b_myanmar, b_nepal, b_bangladesh, b_south_africa, b_global,
        b_sudan, b_developing, b_yemen, b_india, b_kenya, b_madagascar, b_ghana, b_ethiopia, b_pakistan,
        b_tanzania, b_uganda, b_angola, b_afghanistan, b_mozambique, b_cote_divoire, b_cameroon,
        b_niger, b_drc, b_nigeria]

assert len(girls) == len(countries) == len(boys)
for r in girls + boys:
    assert len(r) == len(causes)

# ---------------- figure ----------------
W, H = 1146, 1308
MT, MB = 36, 52
PH = H - MT - MB
FONT = "Lato, 'Open Sans', sans-serif"
OUTLINE = "#2b2b2b"


def px_x(px):
    return px / W


def px_y(py):
    return (H - MB - py) / PH


fig = go.Figure()
for j, cause in enumerate(causes):
    fig.add_trace(go.Bar(
        y=countries, x=[row[j] for row in girls], orientation="h", name=cause,
        marker=dict(color=cause_colors[j], line=dict(color=OUTLINE, width=1)),
        xaxis="x", yaxis="y", showlegend=False, hoverinfo="skip"))
    fig.add_trace(go.Bar(
        y=countries, x=[row[j] for row in boys], orientation="h", name=cause,
        marker=dict(color=cause_colors[j], line=dict(color=OUTLINE, width=1)),
        xaxis="x2", yaxis="y", showlegend=False, hoverinfo="skip"))

# pixel geometry of the reference: 25 000 units = 145 px, row pitch = 22.96 px
unit_px = 145 / 25.0
row_px = (1244 - 50) / 52.0
g_left, g_zero = 58, 535
b_zero, b_right = 669, 1146
y_top = (MT - 50) / row_px
y_bot = 52 + (H - MB - 1244) / row_px

axis_common = dict(
    tickvals=tick_vals, ticktext=tick_text, showgrid=False, zeroline=False,
    showline=True, linecolor="#555555", linewidth=1.5, ticks="outside", ticklen=4,
    tickcolor="#555555", tickwidth=1.2, tickfont=dict(family=FONT, size=15, color="#222222"),
    title=dict(text="Age-Standardized DALYs/100\u2009000", font=dict(family=FONT, size=15.5, color="#222222"),
               standoff=10),
    minor=dict(tickvals=[25, 50, 75], showgrid=True, gridcolor="#e6e6e6", gridwidth=2, ticks=""),
    anchor="y", automargin=False, fixedrange=True)

fig.update_layout(
    width=W, height=H, margin=dict(l=0, r=0, t=MT, b=MB),
    paper_bgcolor="white", plot_bgcolor="white",
    barmode="stack", bargap=0.06,
    font=dict(family=FONT, color="#222222"),
    xaxis=dict(domain=[px_x(g_left), px_x(g_zero)],
               range=[(g_zero - g_left) / unit_px, 0], **axis_common),
    xaxis2=dict(domain=[px_x(b_zero), px_x(b_right)],
                range=[0, (b_right - b_zero) / unit_px], **axis_common),
    yaxis=dict(type="category", categoryorder="array", categoryarray=countries,
               range=[y_bot, y_top], showticklabels=False, showgrid=False, zeroline=False,
               showline=False, ticks="", fixedrange=True),
)

annotations = []
# country labels in the centre column
for c in countries:
    txt = f"<b>{c}</b>" if c in bold_rows else c
    annotations.append(dict(x=px_x(602), xref="paper", y=c, yref="y", text=txt, showarrow=False,
                            xanchor="center", yanchor="middle",
                            font=dict(family=FONT, size=15, color="#222222")))
# panel titles
for label, cx in (("Girls", 297), ("Boys", 908)):
    annotations.append(dict(x=px_x(cx), xref="paper", y=px_y(19), yref="paper", text=f"<b>{label}</b>",
                            showarrow=False, xanchor="center", yanchor="middle",
                            font=dict(family=FONT, size=15.5, color="#222222")))

# legend (drawn as a boxed key)
shapes = [dict(type="rect", xref="paper", yref="paper", x0=px_x(8), x1=px_x(292),
               y0=px_y(899), y1=px_y(71), fillcolor="white", line=dict(color="#555555", width=1.2),
               layer="above")]
annotations.append(dict(x=px_x(24), xref="paper", y=px_y(89), yref="paper", text="Cause of DALYs",
                        showarrow=False, xanchor="left", yanchor="middle",
                        font=dict(family=FONT, size=14.7, color="#222222")))
leg_y0, leg_dy = 116, (879 - 116) / 26.0
for j, cause in enumerate(causes):
    cy = leg_y0 + j * leg_dy
    shapes.append(dict(type="rect", xref="paper", yref="paper", x0=px_x(25), x1=px_x(43),
                       y0=px_y(cy + 9), y1=px_y(cy - 9), fillcolor=cause_colors[j],
                       line=dict(color="#444444", width=1.2), layer="above"))
    annotations.append(dict(x=px_x(48), xref="paper", y=px_y(cy), yref="paper", text=cause,
                            showarrow=False, xanchor="left", yanchor="middle",
                            font=dict(family=FONT, size=14.7, color="#222222")))

fig.update_layout(annotations=annotations, shapes=shapes)
fig.write_html("out.html", config={"displayModeBar": False},
               post_script="document.body.style.margin='0';document.body.style.padding='0';")
